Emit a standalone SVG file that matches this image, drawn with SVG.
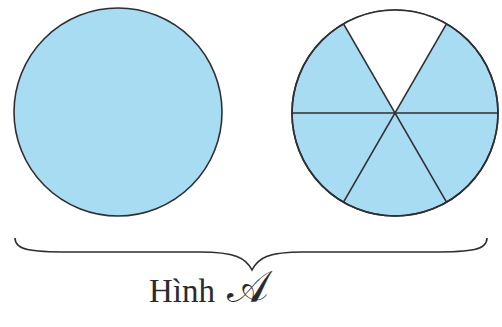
<svg xmlns="http://www.w3.org/2000/svg" width="502" height="327" viewBox="0 0 502 327">
<style>
.disk{fill:#a8dcf2;stroke:#2e2e33;stroke-width:1.6}
.ln{stroke:#2e2e33;stroke-width:1.6;fill:none}
.lbl{font-family:"Liberation Serif","DejaVu Serif",serif;font-size:33px;fill:#2b2b2e}
</style>
<rect width="502" height="327" fill="#ffffff"/>
<g id="circle-full">
<circle class="disk" cx="118" cy="112" r="104"/>
</g>
<g id="circle-divided">
<circle class="disk" cx="395" cy="113" r="103"/>
<path d="M395,113 L343.5,23.8 A103,103 0 0 1 446.5,23.8 Z" fill="#ffffff" stroke="none"/>
<circle cx="395" cy="113" r="103" fill="none" class="ln"/>
<line class="ln" x1="292" y1="113" x2="498" y2="113"/>
<line class="ln" x1="343.5" y1="23.8" x2="446.5" y2="202.2"/>
<line class="ln" x1="446.5" y1="23.8" x2="343.5" y2="202.2"/>
</g>
<g id="connectors">
<path class="ln" d="M15,238 C15,250 30,252 70,252 L200,252 C235,252 246,258 252,270 C258,258 268,252 303,252 L432,252 C472,252 487,250 487,238"/>
</g>
<g id="label">
<text class="lbl" x="149" y="302">Hình <tspan font-size="44" dx="4">𝒜</tspan></text>
</g>
</svg>
